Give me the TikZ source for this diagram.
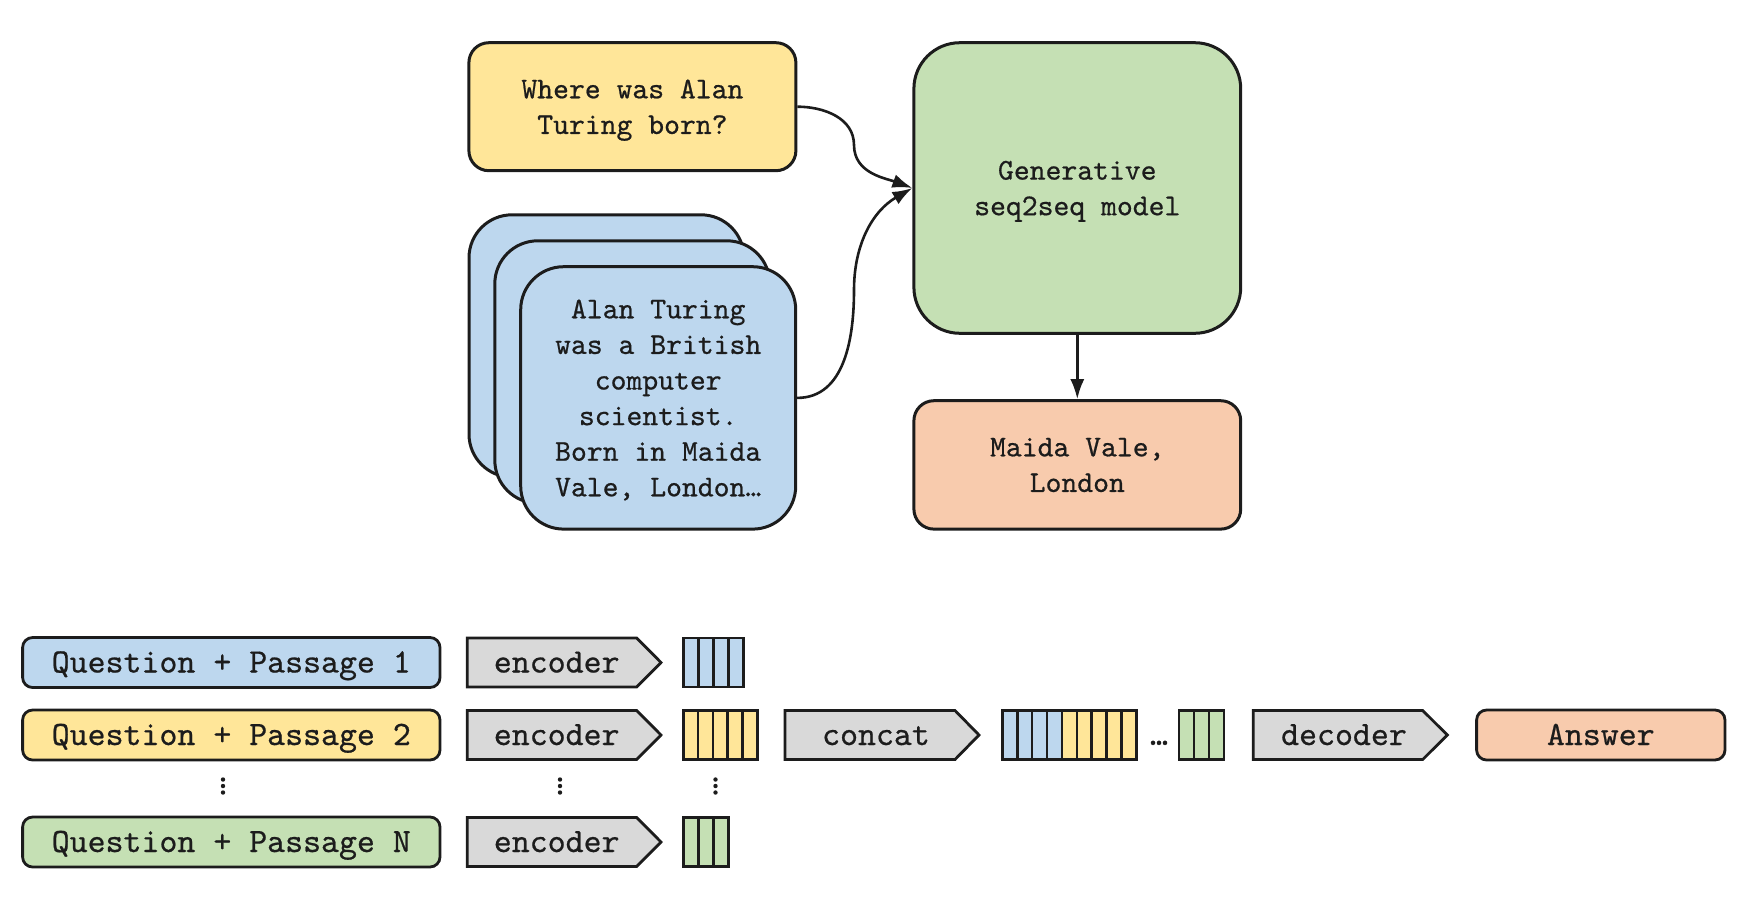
\documentclass[tikz,border=0pt]{standalone}
\usepackage{fontspec}
\usetikzlibrary{arrows.meta}
\newfontfamily\figmono{lmmono10-regular.otf}[FakeBold=0.6]
\definecolor{ink}{HTML}{1C1C1C}
\definecolor{bluef}{HTML}{BDD7EE}
\definecolor{yellowf}{HTML}{FFE699}
\definecolor{greenf}{HTML}{C5E0B4}
\definecolor{orangef}{HTML}{F8CBAD}
\definecolor{grayf}{HTML}{D9D9D9}
\newcommand\figtopfont{\figmono\fontsize{15.1}{17.8}\selectfont}
\newcommand\figbotfont{\figmono\fontsize{17.1}{20}\selectfont}
\begin{document}
\begin{tikzpicture}[x=0.5pt,y=-0.5pt,
  rbox/.style={draw=ink, line width=1.5pt, rounded corners=#1, inner sep=0pt,
    align=center, font=\figtopfont, text=ink, text depth=0pt},
  conn/.style={draw=ink, line width=1.3pt, -{Latex[length=10pt,width=7pt]}},
  sbox/.style={draw=ink, line width=1.4pt, rounded corners=5pt, inner sep=0pt,
    minimum height=25pt, font=\figbotfont, text=ink, text height=11pt, text depth=1pt},
  btxt/.style={inner sep=0pt, font=\figbotfont, text=ink, text height=11pt, text depth=1pt},
  chev/.style={draw=ink, line width=1.4pt, fill=grayf, line join=miter},
  cell/.style={draw=ink, line width=1.3pt},
  vdot/.style={fill=ink}]
\useasboundingbox (0,0) rectangle (1750,900);

% ---------- top part ----------
\node[rbox=10pt, fill=yellowf, minimum width=163.5pt, minimum height=64pt]
  (q) at (632.4,106.7) {Where was Alan\\Turing born?};

\node[rbox=21.5pt, fill=bluef, minimum width=137.5pt, minimum height=131.2pt]
  (p3) at (606.5,346) {};
\node[rbox=21.5pt, fill=bluef, minimum width=137.5pt, minimum height=131.2pt]
  (p2) at (632.3,372) {};
\node[rbox=21.5pt, fill=bluef, minimum width=137.5pt, minimum height=131.2pt]
  (p1) at (658.2,397.9) {Alan Turing\\was a British\\computer\\scientist.\\Born in Maida\\Vale, London…};

\node[rbox=23pt, fill=greenf, minimum width=163.4pt, minimum height=145.3pt]
  (gen) at (1077.3,188) {Generative\\seq2seq model};

\node[rbox=10pt, fill=orangef, minimum width=163.4pt, minimum height=64.2pt]
  (ans) at (1077.3,464.9) {Maida Vale,\\London};

\draw[conn] (q.east) to[out=0,in=90] (854,145) to[out=-90,in=160] (gen.west);
\draw[conn] (p1.east) to[out=0,in=-90] (854,290) to[out=90,in=210] (gen.west);
\draw[conn] (gen.south) -- (ans.north);

% ---------- bottom part ----------
\node[sbox, fill=bluef, minimum width=208.7pt] (qp1) at (231.3,662.5) {Question + Passage 1};
\node[sbox, fill=yellowf, minimum width=208.7pt] (qp2) at (231.3,735) {Question + Passage 2};
\node[sbox, fill=greenf, minimum width=208.7pt] (qpN) at (231.3,842) {Question + Passage N};

% encoders
\draw[chev] (467.3,638) -- (636.7,638) -- (661,662.5) -- (636.7,687) -- (467.3,687) -- cycle;
\node[btxt] (enc1) at (556.7,662.5) {encoder};
\draw[chev] (467.3,710.5) -- (636.7,710.5) -- (661,735) -- (636.7,759.5) -- (467.3,759.5) -- cycle;
\node[btxt] (enc2) at (556.7,735) {encoder};
\draw[chev] (467.3,817.5) -- (636.7,817.5) -- (661,842) -- (636.7,866.5) -- (467.3,866.5) -- cycle;
\node[btxt] (encN) at (556.7,842) {encoder};

% encoded vectors
\foreach \i in {0,...,3} \draw[cell, fill=bluef] (683.3+\i*15.1,638) rectangle ++(15.1,49);
\foreach \i in {0,...,4} \draw[cell, fill=yellowf] (683.3+\i*14.8,710.5) rectangle ++(14.8,49);
\foreach \i in {0,...,2} \draw[cell, fill=greenf] (683.3+\i*15,817.5) rectangle ++(15,49);

% vertical dots
\foreach \x in {223,560,715.5}
  \foreach \y in {779.5,786,792.5}
    \fill[vdot] (\x,\y) circle[radius=1.1pt];

% concat
\draw[chev] (785,710.5) -- (955,710.5) -- (979,735) -- (955,759.5) -- (785,759.5) -- cycle;
\node[btxt] (cat) at (876,735) {concat};

\foreach \i in {0,...,3} \draw[cell, fill=bluef] (1002.3+\i*14.9,710.5) rectangle ++(14.9,49);
\foreach \i in {4,...,8} \draw[cell, fill=yellowf] (1002.3+\i*14.9,710.5) rectangle ++(14.9,49);
\node[btxt] (ell) at (1159,735) {…};
\foreach \i in {0,...,2} \draw[cell, fill=greenf] (1179+\i*15,710.5) rectangle ++(15,49);

% decoder
\draw[chev] (1253.3,710.5) -- (1422.7,710.5) -- (1447.3,735) -- (1422.7,759.5) -- (1253.3,759.5) -- cycle;
\node[btxt] (dec) at (1344,735) {decoder};

\node[sbox, fill=orangef, minimum width=124.2pt] (answer) at (1600.8,735) {Answer};
\end{tikzpicture}
\end{document}
